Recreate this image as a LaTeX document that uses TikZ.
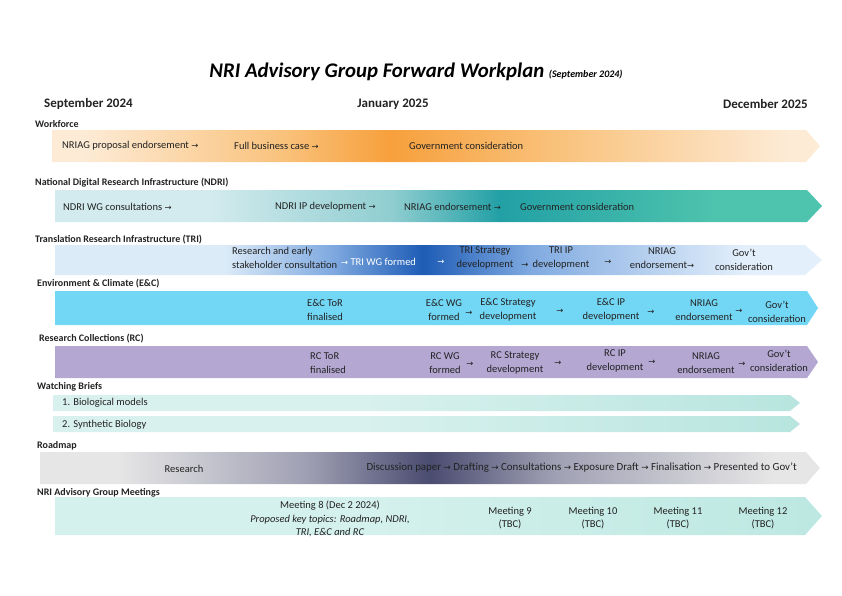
\documentclass[tikz,border=0pt]{standalone}
\usepackage{fontspec}
\setmainfont{Carlito}
\newfontfamily\arrowfont{DejaVu Sans}[Scale=0.8]
\newcommand{\ra}{{\arrowfont →}}

% band colours
\definecolor{wfLight}{HTML}{FDEBD6}
\definecolor{wfMid}{HTML}{F9C27C}
\definecolor{wfDark}{HTML}{F7A03C}
\definecolor{ndLight}{HTML}{D3EBEE}
\definecolor{ndMid}{HTML}{8FCDD0}
\definecolor{ndDark}{HTML}{22A0A5}
\definecolor{ndEnd}{HTML}{4EC3AD}
\definecolor{trLight}{HTML}{DCEBF8}
\definecolor{trMid}{HTML}{80AAE0}
\definecolor{trDark}{HTML}{1E5CB6}
\definecolor{trEnd}{HTML}{E3EFFB}
\definecolor{ecCyan}{HTML}{72D6F5}
\definecolor{rcLilac}{HTML}{B4A8D3}
\definecolor{wbLight}{HTML}{D9F1EE}
\definecolor{wbEnd}{HTML}{B8E5DF}
\definecolor{rmLight}{HTML}{E6E6E6}
\definecolor{rmMid}{HTML}{A0A0B4}
\definecolor{rmDark}{HTML}{4A4C70}
\definecolor{mtLight}{HTML}{D5F1ED}
\definecolor{mtEnd}{HTML}{BCE8E1}
\definecolor{ink}{HTML}{222222}

% shadings (25bp = left end of band, 75bp = right end)
\pgfdeclarehorizontalshading{wfshade}{100bp}{color(0bp)=(wfLight); color(27bp)=(wfLight); color(40bp)=(wfMid); color(47bp)=(wfDark); color(58bp)=(wfMid); color(73bp)=(wfLight); color(100bp)=(wfLight)}
\pgfdeclarehorizontalshading{ndshade}{100bp}{color(0bp)=(ndLight); color(35bp)=(ndLight); color(47bp)=(ndMid); color(54bp)=(ndDark); color(68bp)=(ndEnd); color(100bp)=(ndEnd)}
\pgfdeclarehorizontalshading{trshade}{100bp}{color(0bp)=(trLight); color(36bp)=(trLight); color(43bp)=(trMid); color(49bp)=(trDark); color(56bp)=(trMid); color(70bp)=(trEnd); color(100bp)=(trEnd)}
\pgfdeclarehorizontalshading{wbshade}{100bp}{color(0bp)=(wbLight); color(45bp)=(wbLight); color(75bp)=(wbEnd); color(100bp)=(wbEnd)}
\pgfdeclarehorizontalshading{rmshade}{100bp}{color(0bp)=(rmLight); color(30bp)=(rmLight); color(42bp)=(rmMid); color(50bp)=(rmDark); color(58bp)=(rmMid); color(72bp)=(rmLight); color(100bp)=(rmLight)}
\pgfdeclarehorizontalshading{mtshade}{100bp}{color(0bp)=(mtLight); color(45bp)=(mtLight); color(75bp)=(mtEnd); color(100bp)=(mtEnd)}

\tikzset{
  lbl/.style={font=\bfseries\fontsize{10}{12}\selectfont, anchor=west, inner sep=0, text=ink},
  month/.style={font=\bfseries\fontsize{13}{15}\selectfont, inner sep=0, text=ink},
  txt/.style={font=\fontsize{10.5}{13.5}\selectfont, inner sep=0, text=ink},
  step2/.style={txt, align=center},
}

\begin{document}
\begin{tikzpicture}[x=1pt, y=-1pt]
\useasboundingbox (0,0) rectangle (842,595);

% title and months
\node[font=\bfseries\itshape\fontsize{20.8}{24}\selectfont, text=black] (title) at (416,72)
  {NRI Advisory Group Forward Workplan {\fontsize{10}{12}\selectfont (September 2024)}};
\node[month, anchor=west] (sep) at (44,104) {September 2024};
\node[month] (jan) at (393,104) {January 2025};
\node[month, anchor=east] (dec) at (808,104) {December 2025};

% Workforce
\node[lbl] (wfl) at (35,124) {Workforce};
\shade[shading=wfshade] (52,130) -- (806,130) -- (820,146) -- (806,162) -- (52,162) -- cycle;
\node[txt, anchor=west] (wf1) at (62,146) {NRIAG proposal endorsement \ra};
\node[txt, anchor=west] (wf2) at (234,146) {Full business case \ra};
\node[txt, anchor=west] (wf3) at (409,146) {Government consideration};

% NDRI
\node[lbl] (ndl) at (35,183) {National Digital Research Infrastructure (NDRI)};
\shade[shading=ndshade] (55,190) -- (807,190) -- (822,206) -- (807,222) -- (55,222) -- cycle;
\node[txt, anchor=west] (nd1) at (63,207) {NDRI WG consultations \ra};
\node[txt, anchor=west] (nd2) at (275,207) {NDRI IP development \ra};
\node[txt, anchor=west] (nd3) at (404,207) {NRIAG endorsement \ra};
\node[txt, anchor=west] (nd4) at (520,207) {Government consideration};

% TRI
\node[lbl] (trl) at (35,240) {Translation Research Infrastructure (TRI)};
\shade[shading=trshade] (55,245) -- (805,245) -- (822,260) -- (805,275) -- (55,275) -- cycle;
\node[txt, anchor=west, align=left] (tr1) at (232,258) {Research and early\\stakeholder consultation};
\node[txt, anchor=west, text=white] (tr2) at (341,262) {\ra\ TRI WG formed};
\node[txt, text=white] (tr2a) at (441,262) {\ra};
\node[step2] (tr3) at (485,258) {TRI Strategy\\development};
\node[txt] (tr3a) at (525,265) {\ra};
\node[step2] (tr4) at (561,258) {TRI IP\\development};
\node[txt] (tr4a) at (608,262) {\ra};
\node[step2] (tr5) at (662,258) {NRIAG\\endorsement\ra};
\node[step2] (tr6) at (744,260) {Gov't\\consideration};

% E&C
\node[lbl] (ecl) at (37,284) {Environment \& Climate (E\&C)};
\fill[ecCyan] (55,291) -- (807,291) -- (818,308) -- (807,325) -- (55,325) -- cycle;
\node[txt, anchor=west, align=left] (ec1) at (307,310) {E\&C ToR\\finalised};
\node[step2] (ec2) at (444,310) {E\&C WG\\formed};
\node[txt] (ec2a) at (469,313) {\ra};
\node[step2] (ec3) at (508,310) {E\&C Strategy\\development};
\node[txt] (ec3a) at (560,311) {\ra};
\node[step2] (ec4) at (611,310) {E\&C IP\\development};
\node[txt] (ec4a) at (651,312) {\ra};
\node[step2] (ec5) at (704,310) {NRIAG\\endorsement};
\node[txt] (ec5a) at (739,311) {\ra};
\node[step2] (ec6) at (777,312) {Gov't\\consideration};

% RC
\node[lbl] (rcl) at (39,339) {Research Collections (RC)};
\fill[rcLilac] (55,346) -- (807,346) -- (818,362) -- (807,378) -- (55,378) -- cycle;
\node[txt, anchor=west, align=left] (rc1) at (310,363) {RC ToR\\finalised};
\node[step2] (rc2) at (445,363) {RC WG\\formed};
\node[txt] (rc2a) at (470,364) {\ra};
\node[step2] (rc3) at (515,363) {RC Strategy\\development};
\node[txt] (rc3a) at (558,363) {\ra};
\node[step2] (rc4) at (615,361) {RC IP\\development};
\node[txt] (rc4a) at (652,362) {\ra};
\node[step2] (rc5) at (706,363) {NRIAG\\endorsement};
\node[txt] (rc5a) at (742,364) {\ra};
\node[step2] (rc6) at (779,361) {Gov't\\consideration};

% Watching Briefs
\node[lbl] (wbl) at (37,387) {Watching Briefs};
\shade[shading=wbshade] (53,395) -- (790,395) -- (800,403) -- (790,411) -- (53,411) -- cycle;
\shade[shading=wbshade] (53,416) -- (790,416) -- (800,424) -- (790,432) -- (53,432) -- cycle;
\node[txt, anchor=west] (wb1) at (62,403) {1. Biological models};
\node[txt, anchor=west] (wb2) at (62,425) {2. Synthetic Biology};

% Roadmap
\node[lbl] (rml) at (37,446) {Roadmap};
\shade[shading=rmshade] (40,452) -- (806,452) -- (820,468) -- (806,484) -- (40,484) -- cycle;
\node[txt] (rm1) at (184,469) {Research};
\node[txt, font=\fontsize{10.9}{13}\selectfont, anchor=east] (rm2) at (797,468) {Discussion paper \ra\ Drafting \ra\ Consultations \ra\ Exposure Draft \ra\ Finalisation \ra\ Presented to Gov't};

% Meetings
\node[lbl] (mtl) at (37,493) {NRI Advisory Group Meetings};
\shade[shading=mtshade] (55,497) -- (805,497) -- (822,516) -- (805,535) -- (55,535) -- cycle;
\node[step2] (mt8) at (330,519) {Meeting 8 (Dec 2 2024)\\\textit{Proposed key topics: Roadmap, NDRI,}\\\textit{TRI, E\&C and RC}};
\node[step2] (mt9) at (510,518) {Meeting 9\\(TBC)};
\node[step2] (mt10) at (593,518) {Meeting 10\\(TBC)};
\node[step2] (mt11) at (678,518) {Meeting 11\\(TBC)};
\node[step2] (mt12) at (763,518) {Meeting 12\\(TBC)};
\end{tikzpicture}
\end{document}
